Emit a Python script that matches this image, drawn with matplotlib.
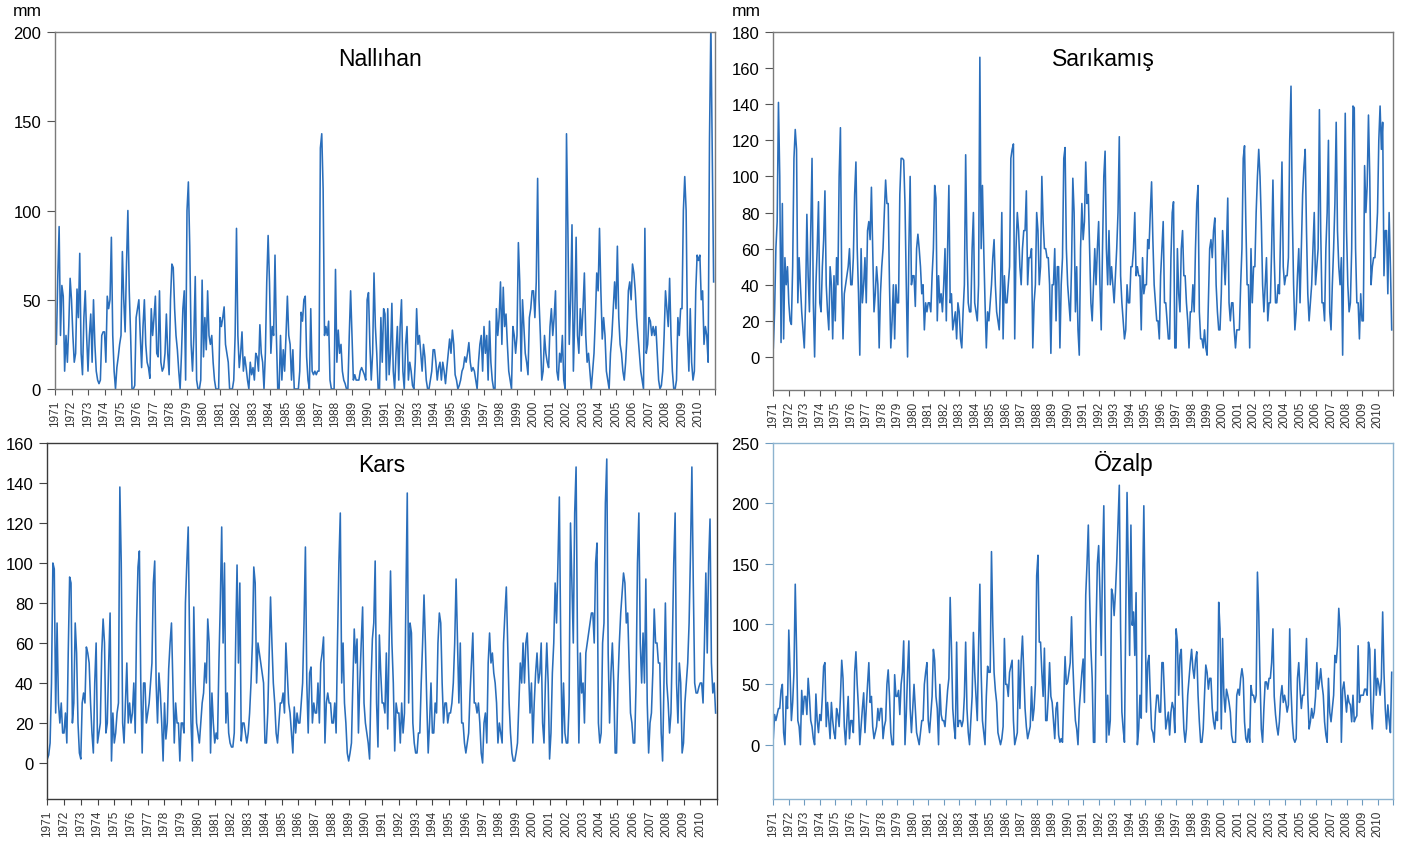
import numpy as np
import matplotlib
matplotlib.use("Agg")
import matplotlib.pyplot as plt

plt.rcParams['font.family'] = ['Liberation Sans', 'DejaVu Sans']

years = list(range(1971, 2011))

nallihan = [
    40, 25, 62, 91, 30, 58, 52, 10, 30, 15, 35, 62,
    50, 30, 15, 20, 56, 40, 76, 20, 8, 40, 55, 30,
    10, 30, 42, 15, 50, 25, 10, 5, 3, 5, 30, 32,
    32, 15, 52, 45, 50, 85, 30, 10, 0, 12, 18, 25,
    30, 77, 50, 32, 70, 100, 55, 30, 0, 0, 2, 40,
    45, 50, 30, 12, 35, 50, 25, 15, 12, 6, 45, 30,
    40, 52, 20, 18, 55, 15, 10, 12, 20, 42, 20, 8,
    50, 70, 68, 45, 30, 22, 10, 0, 20, 45, 55, 5,
    100, 116, 80, 25, 10, 30, 63, 5, 0, 0, 5, 61,
    18, 40, 22, 55, 30, 25, 30, 15, 5, 0, 0, 0,
    40, 35, 40, 46, 25, 20, 15, 0, 0, 0, 5, 30,
    90, 30, 12, 20, 32, 10, 18, 12, 5, 0, 15, 8,
    12, 5, 20, 18, 10, 36, 20, 15, 0, 20, 60, 86,
    60, 20, 35, 30, 75, 30, 0, 0, 30, 5, 22, 10,
    30, 52, 30, 25, 5, 22, 0, 0, 0, 0, 10, 43,
    38, 50, 52, 18, 5, 0, 45, 10, 8, 10, 8, 10,
    10, 135, 143, 112, 30, 35, 30, 38, 5, 0, 0, 0,
    67, 15, 33, 20, 25, 10, 5, 3, 0, 0, 30, 55,
    30, 5, 8, 5, 5, 5, 10, 12, 10, 8, 5, 50,
    54, 25, 5, 20, 65, 35, 20, 0, 0, 40, 15, 45,
    42, 5, 45, 8, 20, 48, 10, 0, 20, 35, 5, 35,
    50, 10, 0, 25, 35, 5, 15, 10, 2, 0, 15, 45,
    25, 30, 20, 10, 25, 18, 5, 0, 0, 5, 10, 22,
    22, 15, 5, 12, 15, 5, 15, 10, 3, 12, 20, 28,
    20, 33, 25, 8, 5, 0, 2, 5, 10, 12, 18, 15,
    20, 26, 15, 10, 12, 10, 5, 0, 15, 25, 30, 10,
    35, 20, 30, 5, 38, 15, 5, 0, 0, 45, 30, 40,
    60, 25, 57, 35, 42, 25, 10, 5, 0, 35, 30, 20,
    30, 82, 60, 10, 50, 35, 20, 15, 8, 40, 45, 55,
    55, 40, 60, 118, 50, 30, 5, 10, 30, 20, 15, 12,
    35, 45, 30, 40, 55, 10, 5, 20, 15, 30, 5, 0,
    143, 90, 25, 50, 92, 10, 40, 85, 30, 20, 45, 30,
    45, 65, 30, 15, 20, 10, 0, 10, 20, 40, 65, 55,
    90, 55, 28, 40, 30, 10, 5, 0, 20, 30, 45, 60,
    45, 80, 40, 25, 20, 10, 5, 15, 30, 55, 60, 50,
    70, 65, 55, 40, 30, 20, 10, 5, 0, 90, 20, 25,
    40, 38, 30, 35, 30, 35, 20, 5, 0, 2, 10, 30,
    55, 45, 35, 62, 30, 10, 0, 0, 5, 40, 30, 45,
    45, 100, 119, 100, 30, 10, 45, 15, 5, 10, 55, 75,
    72, 75, 50, 55, 25, 35, 30, 15, 140, 205, 135, 60,
]

sarikamis = [
    5, 25, 60, 75, 141, 100, 8, 85, 10, 55, 40, 50,
    30, 20, 18, 50, 110, 126, 115, 30, 55, 40, 25, 15,
    5, 30, 79, 45, 25, 70, 110, 30, 0, 40, 60, 86,
    30, 25, 50, 65, 92, 40, 25, 15, 50, 40, 10, 45,
    20, 55, 40, 100, 127, 40, 10, 35, 40, 45, 50, 60,
    40, 40, 55, 90, 108, 60, 35, 1, 60, 30, 40, 55,
    30, 70, 75, 65, 94, 60, 25, 35, 50, 40, 5, 35,
    50, 60, 80, 98, 85, 85, 40, 5, 20, 40, 10, 40,
    30, 30, 90, 110, 110, 109, 85, 40, 0, 60, 100, 40,
    45, 45, 28, 60, 68, 60, 50, 35, 40, 15, 30, 25,
    30, 30, 25, 45, 60, 95, 88, 20, 45, 30, 35, 25,
    40, 60, 20, 60, 95, 30, 35, 15, 20, 25, 10, 30,
    25, 10, 5, 25, 40, 112, 60, 30, 25, 25, 60, 80,
    30, 25, 20, 40, 166, 60, 95, 60, 30, 5, 25, 20,
    30, 40, 55, 65, 40, 25, 20, 15, 40, 80, 10, 45,
    30, 30, 40, 50, 110, 115, 118, 10, 60, 80, 70, 50,
    40, 60, 70, 70, 92, 40, 55, 55, 60, 5, 30, 40,
    80, 70, 40, 50, 100, 75, 60, 60, 55, 55, 40, 2,
    40, 40, 60, 20, 50, 50, 5, 40, 55, 110, 116, 60,
    40, 30, 20, 50, 99, 80, 25, 50, 15, 1, 60, 85,
    65, 75, 108, 85, 90, 60, 30, 20, 40, 60, 40, 60,
    75, 40, 15, 60, 100, 114, 60, 40, 70, 40, 50, 40,
    30, 45, 60, 80, 122, 45, 30, 20, 10, 15, 40, 30,
    30, 50, 50, 60, 80, 45, 50, 45, 45, 15, 55, 35,
    40, 40, 65, 60, 80, 97, 65, 40, 30, 20, 20, 10,
    45, 60, 75, 30, 30, 20, 10, 10, 55, 80, 86, 5,
    5, 60, 35, 25, 60, 70, 45, 45, 30, 20, 5, 25,
    25, 40, 25, 60, 85, 95, 25, 10, 10, 5, 15, 5,
    1, 30, 60, 65, 55, 70, 77, 40, 25, 15, 15, 35,
    70, 55, 40, 60, 88, 30, 20, 30, 30, 15, 5, 15,
    15, 15, 40, 60, 110, 117, 75, 40, 40, 5, 60, 30,
    50, 50, 80, 100, 115, 100, 75, 40, 25, 40, 55, 20,
    30, 30, 60, 98, 55, 30, 30, 40, 35, 70, 108, 50,
    40, 45, 45, 55, 120, 150, 80, 40, 15, 25, 45, 60,
    30, 60, 90, 105, 115, 70, 35, 20, 30, 40, 60, 80,
    40, 50, 60, 137, 70, 30, 30, 20, 60, 80, 120, 25,
    15, 40, 60, 85, 130, 70, 50, 40, 55, 1, 70, 135,
    70, 40, 25, 30, 60, 139, 138, 60, 30, 30, 10, 35,
    20, 20, 106, 80, 95, 134, 100, 40, 50, 55, 55, 65,
    80, 120, 139, 115, 130, 45, 70, 70, 35, 80, 50, 15,
]

kars = [
    2, 4, 10, 40, 100, 97, 25, 70, 30, 20, 30, 15,
    15, 25, 10, 55, 93, 90, 20, 30, 70, 55, 20, 5,
    2, 30, 35, 30, 58, 55, 50, 30, 15, 5, 40, 60,
    10, 15, 20, 55, 72, 60, 15, 20, 50, 75, 1, 25,
    10, 15, 25, 30, 138, 100, 20, 10, 30, 50, 20, 30,
    20, 25, 40, 15, 70, 98, 106, 40, 5, 40, 40, 20,
    25, 30, 40, 50, 90, 101, 40, 20, 45, 35, 20, 1,
    30, 12, 20, 47, 60, 70, 40, 10, 30, 20, 20, 1,
    20, 20, 15, 80, 100, 118, 60, 20, 1, 78, 40, 20,
    15, 10, 20, 30, 35, 50, 40, 72, 60, 5, 35, 20,
    10, 15, 12, 50, 80, 118, 60, 100, 20, 35, 15, 10,
    8, 8, 15, 60, 99, 50, 90, 11, 20, 20, 15, 10,
    15, 25, 40, 60, 98, 90, 40, 60, 55, 50, 45, 40,
    10, 10, 25, 55, 83, 60, 40, 30, 15, 10, 20, 30,
    30, 35, 25, 60, 45, 30, 25, 15, 5, 28, 15, 25,
    20, 20, 30, 40, 70, 108, 40, 15, 45, 48, 20, 30,
    25, 25, 40, 20, 50, 55, 63, 10, 30, 35, 30, 30,
    20, 20, 30, 15, 60, 100, 125, 40, 60, 30, 20, 5,
    1, 5, 10, 40, 67, 50, 62, 15, 40, 60, 78, 30,
    20, 15, 10, 2, 40, 62, 70, 101, 30, 8, 64, 45,
    30, 30, 25, 55, 17, 60, 96, 60, 40, 6, 30, 25,
    25, 10, 30, 15, 25, 80, 135, 30, 70, 65, 20, 10,
    5, 5, 15, 15, 40, 60, 84, 60, 30, 5, 20, 40,
    15, 15, 30, 25, 60, 75, 70, 40, 20, 30, 30, 20,
    25, 25, 30, 40, 60, 92, 60, 30, 60, 20, 20, 10,
    5, 10, 15, 35, 50, 65, 30, 30, 25, 30, 20, 5,
    0, 20, 25, 10, 50, 65, 50, 55, 45, 40, 30, 10,
    20, 15, 10, 60, 75, 88, 60, 30, 15, 5, 1, 1,
    5, 10, 30, 50, 40, 60, 40, 60, 65, 45, 25, 40,
    10, 30, 45, 55, 40, 45, 60, 20, 10, 40, 60, 40,
    2, 15, 45, 60, 90, 70, 100, 133, 60, 10, 40, 15,
    10, 10, 30, 120, 90, 60, 125, 148, 60, 10, 55, 35,
    40, 20, 55, 60, 65, 70, 75, 75, 60, 100, 110, 20,
    10, 15, 60, 70, 130, 152, 55, 20, 45, 60, 40, 5,
    5, 40, 60, 75, 85, 95, 90, 70, 75, 50, 25, 20,
    10, 10, 40, 100, 125, 60, 40, 65, 40, 92, 30, 5,
    20, 25, 45, 77, 60, 60, 50, 50, 15, 1, 40, 80,
    40, 30, 15, 25, 60, 100, 125, 40, 20, 50, 40, 5,
    10, 30, 40, 50, 70, 105, 148, 90, 40, 35, 35, 38,
    40, 40, 30, 60, 95, 55, 100, 122, 50, 35, 40, 25,
]

ozalp = [
    5, 25, 20, 25, 30, 30, 45, 50, 10, 0, 40, 30,
    95, 60, 20, 35, 60, 133, 80, 20, 15, 0, 45, 25,
    40, 40, 25, 55, 40, 20, 15, 5, 0, 42, 20, 10,
    25, 20, 40, 65, 68, 15, 35, 20, 5, 35, 20, 10,
    5, 30, 25, 15, 40, 70, 55, 15, 0, 20, 40, 5,
    20, 20, 10, 60, 77, 50, 30, 0, 15, 30, 43, 10,
    30, 50, 68, 35, 40, 15, 5, 10, 15, 30, 20, 30,
    30, 5, 15, 20, 50, 62, 40, 10, 0, 0, 58, 40,
    40, 45, 25, 50, 60, 86, 0, 25, 60, 86, 30, 10,
    30, 50, 30, 10, 5, 0, 10, 20, 20, 50, 60, 68,
    20, 10, 25, 40, 79, 70, 40, 30, 0, 50, 25, 20,
    20, 15, 30, 45, 55, 122, 80, 30, 15, 5, 85, 15,
    20, 20, 15, 20, 40, 85, 30, 10, 0, 20, 40, 93,
    60, 40, 20, 80, 133, 60, 20, 10, 0, 40, 65, 60,
    60, 160, 100, 60, 45, 35, 10, 5, 0, 5, 15, 88,
    50, 50, 40, 60, 65, 70, 20, 0, 5, 10, 70, 30,
    70, 90, 60, 30, 15, 5, 10, 15, 48, 20, 30, 50,
    140, 157, 85, 85, 60, 40, 80, 20, 20, 40, 68, 40,
    35, 20, 5, 30, 35, 8, 2, 5, 2, 40, 73, 50,
    52, 60, 68, 106, 68, 40, 20, 13, 0, 30, 45, 60,
    71, 35, 124, 150, 182, 124, 80, 55, 2, 2, 96, 150,
    165, 126, 74, 150, 198, 101, 2, 41, 8, 20, 129, 124,
    107, 126, 151, 184, 215, 96, 27, 13, 2, 110, 209, 146,
    74, 182, 99, 110, 74, 126, 0, 13, 41, 22, 124, 198,
    110, 27, 68, 74, 41, 13, 10, 2, 27, 41, 41, 27,
    27, 68, 68, 41, 13, 20, 27, 8, 27, 35, 30, 10,
    96, 85, 41, 74, 79, 41, 13, 2, 13, 41, 55, 68,
    79, 63, 55, 70, 77, 41, 19, 2, 2, 13, 41, 66,
    60, 46, 55, 55, 30, 19, 13, 27, 20, 118, 96, 13,
    88, 41, 27, 46, 41, 35, 27, 8, 2, 2, 2, 41,
    46, 41, 55, 63, 55, 19, 5, 2, 13, 2, 49, 41,
    41, 35, 41, 143, 110, 55, 13, 2, 30, 52, 52, 46,
    55, 55, 68, 96, 40, 25, 15, 8, 19, 40, 49, 35,
    41, 35, 27, 33, 96, 46, 19, 5, 2, 5, 55, 68,
    46, 30, 41, 41, 60, 88, 40, 13, 19, 30, 22, 27,
    40, 68, 46, 52, 63, 50, 41, 19, 8, 2, 55, 27,
    19, 30, 41, 74, 68, 82, 113, 96, 2, 46, 52, 40,
    27, 41, 35, 33, 19, 41, 19, 22, 24, 82, 35, 41,
    41, 41, 46, 46, 41, 85, 79, 27, 13, 40, 79, 41,
    55, 50, 41, 55, 110, 60, 30, 13, 33, 20, 10, 60,
]

stations = ["Nallıhan", "Sarıkamış", "Kars", "Özalp"]
series = [nallihan, sarikamis, kars, ozalp]
yticks_list = [list(range(0, 201, 50)), list(range(0, 181, 20)),
               list(range(0, 161, 20)), list(range(0, 251, 50))]
ylims = [(0, 200), (-18.3, 180), (-18, 160), (-45, 250)]

W, H = 1406, 845
boxes = [(55, 715, 33, 390), (773.3, 1393, 33, 391),
         (47.3, 717, 444, 800), (773.3, 1393, 444, 800)]
title_pos = [(0.492, 0.925), (0.532, 0.925), (0.499, 0.94), (0.565, 0.945)]
spine_colors = ['#7a7a7a', '#7a7a7a', '#3a3a3a', '#8db3cf']
tick_colors = ['#555555', '#555555', '#444444', '#6f9cc0']
line_color = '#2a6ebb'

fig = plt.figure(figsize=(W / 100, H / 100), dpi=100)

for i, (name, vals) in enumerate(zip(stations, series)):
    l, r, t, b = boxes[i]
    ax = fig.add_axes([l / W, 1 - b / H, (r - l) / W, (b - t) / H])
    x = np.arange(len(vals))
    ax.plot(x, vals, color=line_color, lw=1.15)
    ax.set_xlim(0, 480)
    ax.set_ylim(*ylims[i])
    ax.set_yticks(yticks_list[i])
    ax.set_yticklabels([str(v) for v in yticks_list[i]], fontsize=12)
    xt = [12 * k for k in range(len(years))] + [480]
    ax.set_xticks(xt)
    ax.set_xticklabels([str(y) for y in years] + [''], rotation=90, fontsize=8.5, color='#333333')
    ax.tick_params(axis='y', direction='out', length=6, width=0.8, color=tick_colors[i], pad=4)
    ax.tick_params(axis='x', direction='out', length=4, width=0.8, color=tick_colors[i], pad=4)
    for s in ax.spines.values():
        s.set_color(spine_colors[i])
        s.set_linewidth(1.0)
    tx, ty = title_pos[i]
    ax.text(tx, ty, name, transform=ax.transAxes, ha='center', va='center', fontsize=16.5)

fig.text(27 / W, 1 - 12 / H, 'mm', ha='center', va='center', fontsize=12.5)
fig.text(746 / W, 1 - 12 / H, 'mm', ha='center', va='center', fontsize=12.5)

fig.savefig('out.png', dpi=100)
